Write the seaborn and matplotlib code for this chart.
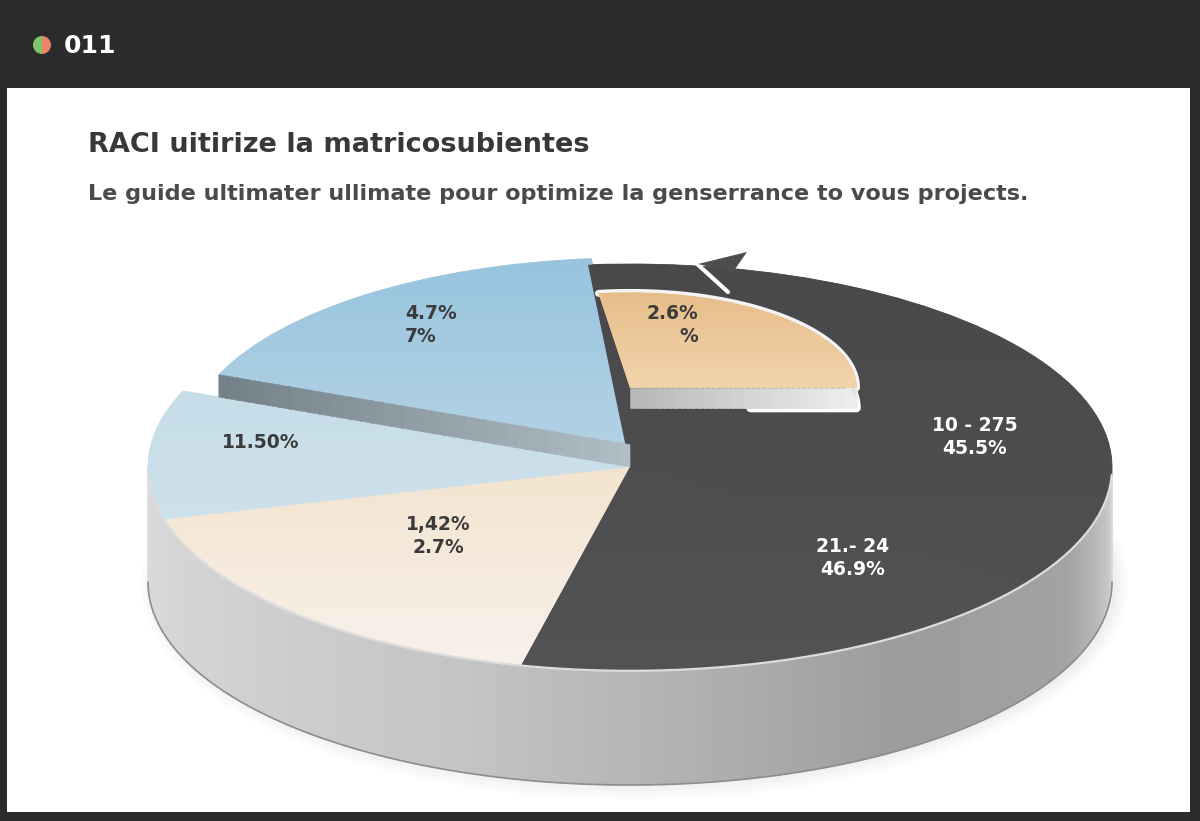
import numpy as np
import matplotlib
matplotlib.use("Agg")
import matplotlib.pyplot as plt
import seaborn as sns
from matplotlib.patches import Rectangle, Wedge, Ellipse, Polygon
from matplotlib.colors import LinearSegmentedColormap

sns.set_theme(style="white")
plt.rcParams["font.family"] = ["DejaVu Sans"]

# --------------- data --------------- #
header_label = "011"
title = "RACI uitirize la matricosubientes"
subtitle = "Le guide ultimater ullimate pour optimize la genserrance to vous projects."

# base ring, counter-clockwise from the top
slice_shares = [63, 37, 62, 68, 130]
slice_labels = ["4.7%\n7%", "11.50%", "1,42%\n2.7%", "21.- 24\n46.9%", "10 - 275\n45.5%"]
# small raised slice sitting on the dark one
inner_share = 98
inner_label = "2.6%\n%"

# --------------- style / layout --------------- #
top_colors = ["#a9cde2", "#c9dfe9", "#f2e1cb", "#4d4d4f", "#4d4d4f"]
grad_colors = [("#93c1dd", "#d3e4ee"), ("#bcd7e5", "#d7e7ef"),
               ("#edd3ae", "#f8f2ec"), ("#48484a", "#535355"),
               ("#48484a", "#525254")]
label_colors = ["#3b3b3b", "#3b3b3b", "#3b3b3b", "white", "white"]
label_pos = [(405, 325, "left"), (261, 443, "center"), (438, 536, "center"),
             (853, 558, "center"), (975, 437, "center")]
inner_pos = (698, 325, "right")

W, H = 1200, 821
CX, CY, RX, RY = 630, 467, 482, 203      # pie centre and radii in px
DEPTH = 115 / RY                          # side wall height (pie units)
LIFT = 0.11                               # raised blue slice
BLUE_R = 0.92
START = 95
IN_R, IN_C, IN_D = 0.47, (0.0, 0.39), 0.10

fig = plt.figure(figsize=(W / 100, H / 100), dpi=100)
fig.patch.set_facecolor("#2b2b2b")

bg = fig.add_axes([0, 0, 1, 1], zorder=0)
bg.set_xlim(0, W)
bg.set_ylim(H, 0)
bg.axis("off")
bg.add_patch(Rectangle((7, 88), 1183, 724, fc="white", ec="none"))
bg.add_patch(Wedge((42, 45), 9, 90, 270, fc="#7cc56a", ec="none"))
bg.add_patch(Wedge((42, 45), 9, 270, 90, fc="#ea8368", ec="none"))
bg.text(64, 46, header_label, color="white", fontsize=18, fontweight="bold", va="center")
bg.text(88, 152, title, color="#383838", fontsize=19.5, fontweight="bold", va="baseline")
bg.text(88, 200, subtitle, color="#4a4a4a", fontsize=16.1, fontweight="bold", va="baseline")

ax = fig.add_axes([0, 0, 1, 1], zorder=1)
ax.patch.set_visible(False)


def grey(v):
    return (v, v, v)


# soft shadow under the pie
for k in range(4):
    ax.add_patch(Ellipse((0.01, -DEPTH - 0.01), 2 * (1.0 + 0.008 * k), 2 * (1.0 + 0.02 * k),
                         fc="black", ec="none", alpha=0.015, zorder=0.5))

# front side wall of the base ring
wall_ang = [180, 215, 250, 275, 305, 335, 352, 360]
wall_val = [0.86, 0.82, 0.77, 0.70, 0.61, 0.64, 0.78, 0.85]
angs = np.linspace(180, 360, 181)
for a0, a1 in zip(angs[:-1], angs[1:]):
    th = np.radians(np.linspace(a0, min(a1 + 0.4, 360), 4))
    xs, ys = np.cos(th), np.sin(th)
    c = grey(np.interp((a0 + a1) / 2, wall_ang, wall_val))
    ax.fill(np.r_[xs, xs[::-1]], np.r_[ys, ys[::-1] - DEPTH], fc=c, ec=c, lw=0.5, zorder=1)
th = np.radians(np.linspace(180, 360, 200))
ax.plot(np.cos(th), np.sin(th) - DEPTH, color="#8d8d8d", lw=1.2, zorder=1.1)

# top faces
wedges, _ = ax.pie(slice_shares, startangle=START, counterclock=True, colors=top_colors,
                   radius=1, wedgeprops=dict(linewidth=0.6))
for w, c in zip(wedges, top_colors):
    w.set_edgecolor(c)
    w.set_zorder(2)
wedges[0].set_center((0, LIFT))
wedges[0].set_radius(BLUE_R)

grad = np.linspace(0, 1, 256).reshape(-1, 1)
for w, (top, bot) in zip(wedges, grad_colors):
    cmap = LinearSegmentedColormap.from_list("g", [bot, top])
    im = ax.imshow(grad, extent=(-1.1, 1.1, -1.05, 1.2), origin="lower", cmap=cmap,
                   aspect="auto", interpolation="bicubic", zorder=2.1)
    im.set_clip_path(w)

# light rim between the top face and the wall
th = np.radians(np.linspace(182, 358, 200))
ax.plot(np.cos(th), np.sin(th) - 0.004, color="#dcdcdc", lw=1.6, zorder=2.15)

# wall under the raised blue slice
edge = np.radians(START + slice_shares[0])
n = 40
for i in range(n):
    r0, r1 = BLUE_R * i / n, BLUE_R * min((i + 1.3) / n, 1)
    x0, x1 = r0 * np.cos(edge), r1 * np.cos(edge)
    y0, y1 = LIFT + r0 * np.sin(edge), LIFT + r1 * np.sin(edge)
    v = 0.72 - 0.24 * i / n
    c = (v - 0.03, v + 0.02, v + 0.05)
    ax.fill([x0, x1, x1, x0], [y0, y1, y1 - LIFT, y0 - LIFT], fc=c, ec=c, lw=0.4, zorder=2.2)

# arrow tip of the dark ring at the top
ax.plot([695, 728], [262, 292], transform=bg.transData, color="white", lw=3, zorder=2.3)
ax.add_patch(Polygon([(698, 264), (747, 252), (733, 272)], closed=True, fc="#4d4d4f",
                     ec="none", transform=bg.transData, zorder=2.35))

# raised inner slice: halo, wall, face
ix, iy = IN_C
th = np.radians(np.linspace(0, 30, 40))
arc = np.radians(np.linspace(0, inner_share, 90))
ax.plot(ix + IN_R * np.cos(arc), iy + IN_R * np.sin(arc), color="#f4f4f4", lw=5, zorder=2.4,
        solid_capstyle="round")
ax.plot(np.r_[ix + 0.25, ix + IN_R * np.cos(th)], np.r_[iy - IN_D, iy - IN_D + IN_R * np.sin(th)],
        color="white", lw=6, zorder=2.4, solid_capstyle="round")
m = 40
for i in range(m):
    x0 = ix + IN_R * i / m
    x1 = ix + IN_R * min((i + 1.3) / m, 1)
    c = grey(0.72 + 0.22 * i / m)
    ax.fill([x0, x1, x1, x0], [iy, iy, iy - IN_D, iy - IN_D], fc=c, ec=c, lw=0.4, zorder=2.5)
for a0, a1 in zip(np.linspace(0, 30, 31)[:-1], np.linspace(0, 30, 31)[1:]):
    t = np.radians(np.linspace(a0, a1 + 0.4, 3))
    xs, ys = ix + IN_R * np.cos(t), iy + IN_R * np.sin(t)
    c = grey(0.94 - 0.006 * a0)
    ax.fill(np.r_[xs, xs[::-1]], np.r_[ys, ys[::-1] - IN_D], fc=c, ec=c, lw=0.4, zorder=2.5)

inner, _ = ax.pie([inner_share, 360 - inner_share], startangle=0, counterclock=True,
                  radius=IN_R, center=IN_C, colors=["#ecc795", "none"],
                  wedgeprops=dict(linewidth=0))
inner[1].set_visible(False)
inner[0].set_zorder(2.6)
cmap = LinearSegmentedColormap.from_list("o", ["#f3d6b0", "#e6bb86"])
im = ax.imshow(grad, extent=(-0.5, 0.6, iy - 0.05, iy + IN_R + 0.05), origin="lower",
               cmap=cmap, aspect="auto", interpolation="bicubic", zorder=2.7)
im.set_clip_path(inner[0])

# labels
for s, (x, y, ha), col in zip(slice_labels, label_pos, label_colors):
    ax.text(x, y, s, transform=bg.transData, ha=ha, va="center", multialignment=ha,
            color=col, fontsize=13.5, fontweight="bold", linespacing=1.25, zorder=5)
ax.text(inner_pos[0], inner_pos[1], inner_label, transform=bg.transData, ha=inner_pos[2],
        va="center", multialignment=inner_pos[2], color="#3b3b3b", fontsize=13.5,
        fontweight="bold", linespacing=1.25, zorder=5)

ax.set_aspect("auto")
ax.set_xlim(-CX / RX, (W - CX) / RX)
ax.set_ylim(-(H - CY) / RY, CY / RY)
ax.axis("off")

fig.savefig("out.png", dpi=100, facecolor=fig.get_facecolor())
